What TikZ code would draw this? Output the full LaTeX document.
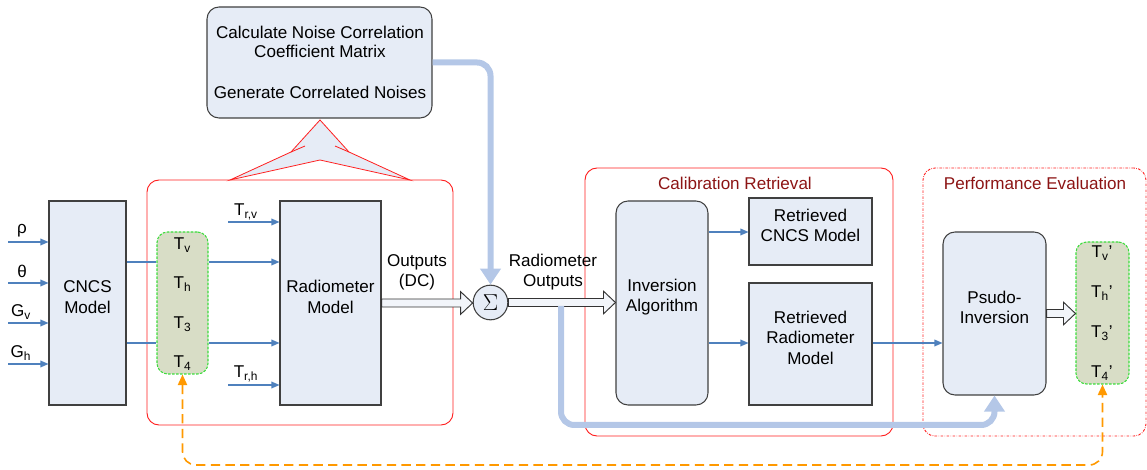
\documentclass[tikz,border=0pt]{standalone}
\usepackage{fontspec}
\setmainfont{Liberation Sans}
\usetikzlibrary{arrows.meta,fit,calc}
\definecolor{boxfill}{RGB}{230,236,246}
\definecolor{tfill}{RGB}{216,221,198}
\definecolor{tgreen}{RGB}{60,220,60}
\definecolor{linkblue}{RGB}{79,129,189}
\definecolor{thickblue}{RGB}{180,199,231}
\definecolor{framered}{RGB}{255,30,30}
\definecolor{titlered}{RGB}{140,20,20}
\definecolor{dashorange}{RGB}{255,153,0}
\newcommand\harrow[2]{\path[harrowstyle] let \p1=(#1), \p2=(#2) in (\x1,\y1+3pt) -- (\x2-9pt,\y1+3pt) -- (\x2-9pt,\y1+8.5pt) -- (\x2,\y1) -- (\x2-9pt,\y1-8.5pt) -- (\x2-9pt,\y1-3pt) -- (\x1,\y1-3pt) -- cycle;}
\begin{document}
\begin{tikzpicture}[x=0.75pt,y=-0.75pt,
  base/.style={draw=black!75, fill=boxfill, inner sep=0pt, align=center, line width=0.8pt, font=\fontsize{12.8}{15.2}\selectfont},
  sqbox/.style={base},
  rbox/.style={base, rounded corners=9pt},
  tcol/.style={fill=tfill, draw=tgreen, dashed, dash pattern=on 2pt off 1pt, line width=0.8pt, rounded corners=8pt, inner sep=0pt},
  frame/.style={draw=framered, line width=0.7pt, rounded corners=9pt, inner sep=0pt},
  lbl/.style={inner sep=0pt, align=center, font=\fontsize{12.8}{15}\selectfont},
  title/.style={lbl, text=titlered},
  thinarrow/.style={draw=linkblue, line width=0.9pt, -{Triangle[length=6pt,width=5pt]}},
  thinline/.style={draw=linkblue, line width=0.9pt},
  thickarrow/.style={draw=thickblue, line width=4.5pt, rounded corners=10pt, -{Triangle[length=12pt,width=15pt]}},
  orangearrow/.style={draw=dashorange, line width=1.2pt, dash pattern=on 7pt off 4pt, rounded corners=10pt, {Triangle[length=8pt,width=7pt]}-{Triangle[length=8pt,width=7pt]}},
  harrowstyle/.style={draw=black!80, fill=boxfill!50!white, line width=0.7pt, line join=miter}
]
\useasboundingbox (0,0) rectangle (1147,470);

% frames
\node[frame, fit={(147,180) (453,425)}] (fr1) {};
\node[frame, fit={(585,168) (893,436)}] (fr2) {};
\node[frame, dash pattern=on 2pt off 1pt on 0.5pt off 1pt, fit={(923,168) (1146,436)}] (fr3) {};
\node[title] (t2) at (735,183) {Calibration Retrieval};
\node[title] (t3) at (1035,183) {Performance Evaluation};

% callout wedge
\draw[draw=framered, fill=boxfill, line width=0.6pt, line join=miter]
  (320,120) -- (291,152) -- (230,180) -- (320,160) -- (410,180) -- (349,152) -- cycle;
\draw[draw=framered, line width=0.6pt] (291,152) -- (305,146) (349,152) -- (335,146);

% boxes
\node[rbox, fit={(207,7) (432,118)}] (top) {};
\node[lbl] (tl1) at (320,32) {Calculate Noise Correlation};
\node[lbl] (tl2) at (320,51) {Coefficient Matrix};
\node[lbl] (tl3) at (320,92) {Generate Correlated Noises};

\node[sqbox, fit={(49,201) (126,405)}] (cncs) {CNCS\\Model};
\node[tcol, fit={(157,232) (208,374)}] (tbox) {};
\node[lbl] (tv) at (182.5,245) {T\textsubscript{v}};
\node[lbl] (th) at (182.5,284) {T\textsubscript{h}};
\node[lbl] (t3n) at (182.5,324) {T\textsubscript{3}};
\node[lbl] (t4n) at (182.5,363) {T\textsubscript{4}};

\node[sqbox, fit={(280,201) (381,405)}] (rad) {Radiometer\\Model};
\node[base, circle, minimum size=26pt] (sig) at (490.5,302.5) {\LARGE$\Sigma$};
\node[rbox, fit={(616,201) (708,405)}] (inv) {Inversion\\Algorithm};
\node[sqbox, fit={(749,198) (872,265)}] (rcncs) {Retrieved\\CNCS Model};
\node[sqbox, fit={(749,283) (872,405)}] (rrad) {Retrieved\\Radiometer\\Model};
\node[rbox, fit={(943,232) (1046,395)}] (psu) {Psudo-\\Inversion};
\node[tcol, fit={(1076,242) (1129,384)}] (tpbox) {};
\node[lbl] (tvp) at (1102,253) {T\textsubscript{v}'};
\node[lbl] (thp) at (1102,293) {T\textsubscript{h}'};
\node[lbl] (t3p) at (1102,333) {T\textsubscript{3}'};
\node[lbl] (t4p) at (1102,373) {T\textsubscript{4}'};

% inputs
\coordinate (in1) at (8,242);
\coordinate (in2) at (8,283);
\coordinate (in3) at (8,323);
\coordinate (in4) at (8,364);
\draw[thinarrow] (in1) -- (in1 -| cncs.west);
\draw[thinarrow] (in2) -- (in2 -| cncs.west);
\draw[thinarrow] (in3) -- (in3 -| cncs.west);
\draw[thinarrow] (in4) -- (in4 -| cncs.west);
\node[lbl] (lrho) at (22,231) {ρ};
\node[lbl] (lth) at (22,271) {θ};
\node[lbl] (lgv) at (21,312) {G\textsubscript{v}};
\node[lbl] (lgh) at (21,353) {G\textsubscript{h}};

% CNCS -> T -> radiometer
\coordinate (ya) at (0,262);
\coordinate (yb) at (0,343);
\draw[thinline] (ya -| cncs.east) -- (ya -| tbox.west);
\draw[thinline] (yb -| cncs.east) -- (yb -| tbox.west);
\draw[thinarrow] (ya -| tbox.east) -- (ya -| rad.west);
\draw[thinarrow] (yb -| tbox.east) -- (yb -| rad.west);
\coordinate (trv) at (228,222);
\coordinate (trh) at (228,385);
\draw[thinarrow] (trv) -- (trv -| rad.west);
\draw[thinarrow] (trh) -- (trh -| rad.west);
\node[lbl] (ltrv) at (246,212) {T\textsubscript{r,v}};
\node[lbl] (ltrh) at (246,374) {T\textsubscript{r,h}};

% hollow arrows
\harrow{rad.east}{sig.west}
\harrow{sig.east}{inv.west}
\harrow{psu.east}{tpbox.west}
\node[lbl] (lout) at (417,272) {Outputs\\(DC)};
\node[lbl] (lrout) at (553,272) {Radiometer\\Outputs};

% inversion outputs
\draw[thinarrow] (inv.east |- 0,232) -- (rcncs.west |- 0,232);
\draw[thinarrow] (inv.east |- 0,343) -- (rrad.west |- 0,343);
\draw[thinarrow] (rrad.east |- 0,343) -- (psu.west |- 0,343);

% thick blue connectors
\draw[thickarrow] (top.east) -| (sig.north);
\coordinate (bstart) at (561,306);
\coordinate (bl) at (561,425);
\draw[thickarrow] (bstart) -- (bl) -- (bl -| psu.south) -- (psu.south);

% orange dashed
\coordinate (ob) at (0,465);
\draw[orangearrow] (tbox.south) -- (tbox.south |- ob) -- (tpbox.south |- ob) -- (tpbox.south);
\end{tikzpicture}
\end{document}
